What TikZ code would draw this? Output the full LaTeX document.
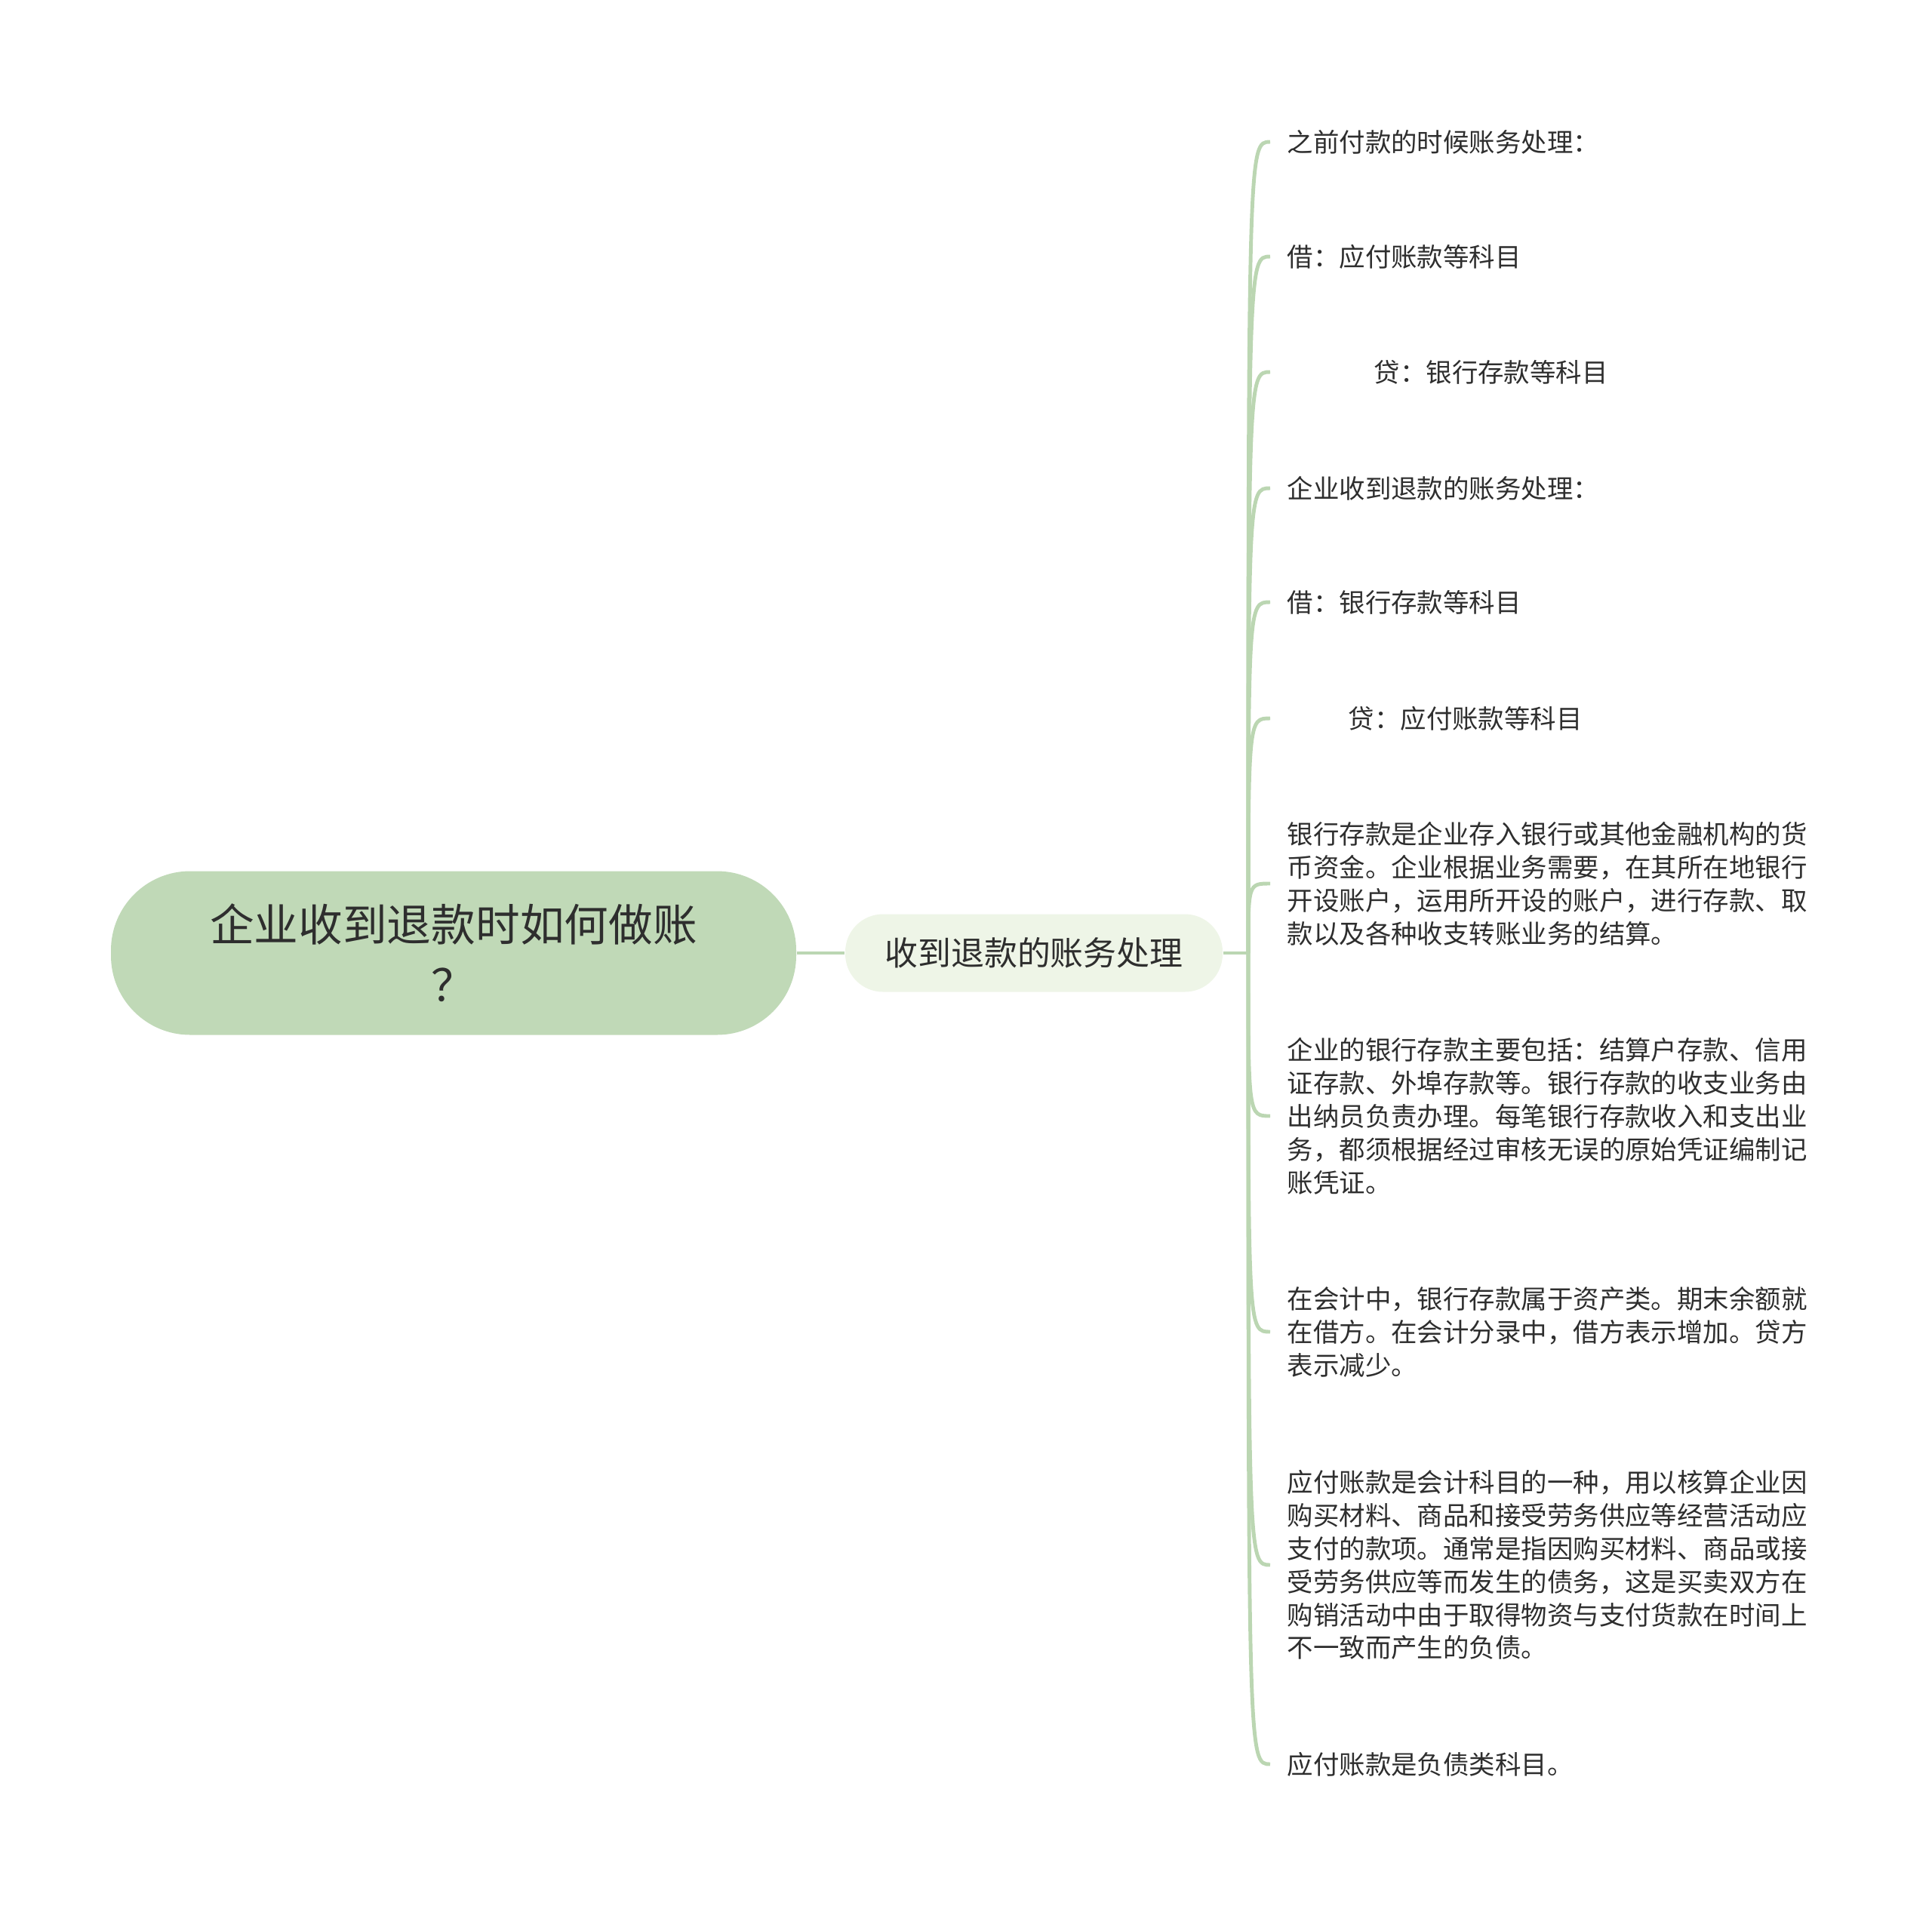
\documentclass[tikz,border=0pt]{standalone}
\usepackage{fontspec}
\setmainfont{Noto Sans CJK SC}
\usetikzlibrary{positioning}

\definecolor{rootgreen}{HTML}{C0D9B7}
\definecolor{subgreen}{HTML}{EEF5E7}
\definecolor{linegreen}{HTML}{BBD6B2}
\definecolor{inkgray}{HTML}{2E2E2E}

\tikzset{
  rootbox/.style={fill=rootgreen, rounded corners=1.05cm, minimum width=9.08cm,
    minimum height=2.17cm, align=center, text=inkgray,
    font=\fontsize{16.7}{22.8}\selectfont},
  subbox/.style={fill=subgreen, rounded corners=0.5cm, minimum width=5cm,
    minimum height=1.03cm, text=inkgray, font=\fontsize{12.5}{15}\selectfont},
  leaf/.style={anchor=west, align=left, inner xsep=0.22cm, text=inkgray,
    font=\fontsize{9.8}{12.5}\selectfont},
  link/.style={draw=linegreen, line width=1.4pt},
}

\begin{document}
\begin{tikzpicture}
 \useasboundingbox (0,0) rectangle (25.6,-25.25);

 \node[rootbox] (root) at (6.01,-12.63) {企业收到退款时如何做账\\？};
 \node[subbox]  (sub)  at (13.70,-12.63) {收到退款的账务处理};
 \coordinate (hub) at (16.54,-12.63);

 \node[leaf] (l1)  at (16.83,-1.88)  {之前付款的时候账务处理：};
 \node[leaf] (l2)  at (16.83,-3.40)  {借：应付账款等科目};
 \node[leaf] (l3)  at (16.83,-4.93)  {\hspace*{1.15cm}贷：银行存款等科目};
 \node[leaf] (l4)  at (16.83,-6.47)  {企业收到退款的账务处理：};
 \node[leaf] (l5)  at (16.83,-7.98)  {借：银行存款等科目};
 \node[leaf] (l6)  at (16.83,-9.52)  {\hspace*{0.81cm}贷：应付账款等科目};
 \node[leaf] (l7)  at (16.83,-11.71) {银行存款是企业存入银行或其他金融机构的货\\币资金。企业根据业务需要，在其所在地银行\\开设账户，运用所开设的账户，进行存款、取\\款以及各种收支转账业务的结算。};
 \node[leaf] (l8)  at (16.83,-14.79) {企业的银行存款主要包括：结算户存款、信用\\证存款、外埠存款等。银行存款的收支业务由\\出纳员负责办理。每笔银行存款收入和支出业\\务，都须根据经过审核无误的原始凭证编制记\\账凭证。};
 \node[leaf] (l9)  at (16.83,-17.65) {在会计中，银行存款属于资产类。期末余额就\\在借方。在会计分录中，借方表示增加。贷方\\表示减少。};
 \node[leaf] (l10) at (16.83,-20.74) {应付账款是会计科目的一种，用以核算企业因\\购买材料、商品和接受劳务供应等经营活动应\\支付的款项。通常是指因购买材料、商品或接\\受劳务供应等而发生的债务，这是买卖双方在\\购销活动中由于取得物资与支付货款在时间上\\不一致而产生的负债。};
 \node[leaf] (l11) at (16.83,-23.38) {应付账款是负债类科目。};

 \path[link] (root) edge (sub);
 \path[link] (sub) edge (hub);
 \foreach \i in {1,...,11}
   \draw[link] (hub) .. controls (hub |- l\i.west) and (hub |- l\i.west) .. (l\i.west);
\end{tikzpicture}
\end{document}
